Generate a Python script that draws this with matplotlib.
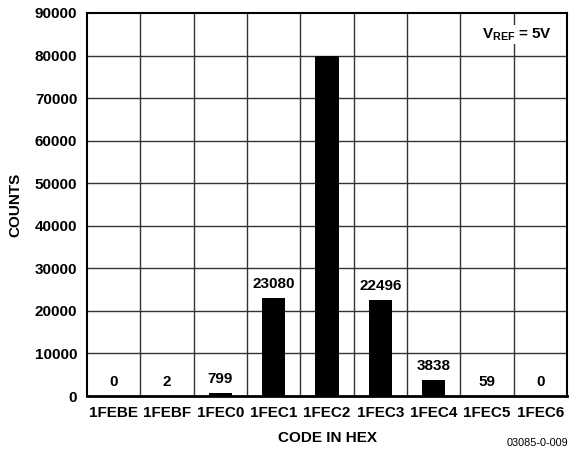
import matplotlib.pyplot as plt
import numpy as np

plt.rcParams['font.family'] = ['Liberation Sans', 'DejaVu Sans']
plt.rcParams['font.weight'] = 'bold'
plt.rcParams['mathtext.fontset'] = 'custom'
plt.rcParams['mathtext.rm'] = 'Liberation Sans:bold'
plt.rcParams['mathtext.bf'] = 'Liberation Sans:bold'

codes = ['1FEBE', '1FEBF', '1FEC0', '1FEC1', '1FEC2', '1FEC3', '1FEC4', '1FEC5', '1FEC6']
counts = [0, 2, 799, 23080, 79900, 22496, 3838, 59, 0]
labels = ['0', '2', '799', '23080', '', '22496', '3838', '59', '0']
yticks = np.arange(0, 90001, 10000)

fig = plt.figure(figsize=(5.79, 4.51), dpi=100)
ax = fig.add_axes([87/579, 1 - 396/451, 480/579, 383/451])

x = np.arange(len(codes))
ax.bar(x, counts, width=0.44, color='black', zorder=3)

for xi, c, lab in zip(x, counts, labels):
    if lab:
        ax.annotate(lab, (xi, c), xytext=(0, 5), textcoords='offset points',
                    ha='center', va='bottom', fontsize=11, fontweight='bold')

ax.set_xlim(-0.5, len(codes) - 0.5)
ax.set_ylim(0, 90000)
ax.set_yticks(yticks)
ax.set_yticklabels([str(v) for v in yticks], fontsize=11, fontweight='bold')
ax.set_xticks(x)
ax.set_xticklabels(codes, fontsize=11, fontweight='bold')
ax.tick_params(axis='y', length=0, pad=7)
ax.tick_params(axis='x', length=0, pad=7)

# grid lines: horizontal at ticks, vertical at category boundaries
for v in yticks[1:-1]:
    ax.axhline(v, color='#333333', lw=1, zorder=1)
for b in np.arange(0.5, len(codes) - 1, 1):
    ax.axvline(b, color='#333333', lw=1, zorder=1)

for s in ax.spines.values():
    s.set_linewidth(1.5)
ax.spines['bottom'].set_linewidth(2)

ax.set_xlabel('CODE IN HEX', fontsize=11, fontweight='bold', labelpad=8)
ax.set_ylabel('COUNTS', fontsize=11, fontweight='bold', labelpad=9)

ax.text(0.969, 0.943, r'$\mathbf{V_{REF}}$ = 5V', transform=ax.transAxes,
        ha='right', va='center', fontsize=11, fontweight='bold', zorder=4,
        bbox=dict(facecolor='white', edgecolor='none', pad=1))

fig.text(568/579, 1 - 443/451, '03085-0-009', ha='right', va='center',
         fontsize=7.8, fontweight='normal')

fig.savefig('out.png', dpi=100)
